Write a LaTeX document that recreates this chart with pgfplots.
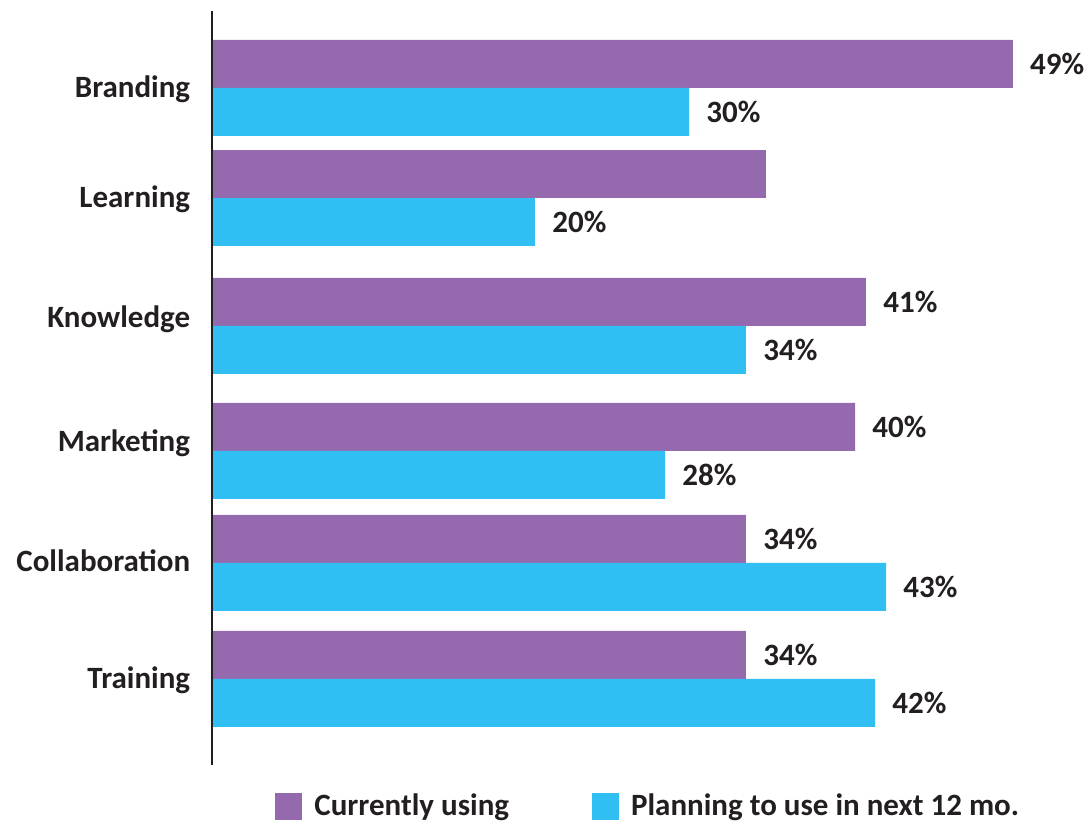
\documentclass[border=0pt]{standalone}
\usepackage{fontspec}
\setmainfont{Carlito}
\usepackage{pgfplots}
\pgfplotsset{compat=1.18}
\definecolor{cur}{HTML}{9469AD}
\definecolor{plan}{HTML}{31BEF2}
\definecolor{ink}{HTML}{231F20}
\newcommand{\lbl}{\fontsize{15.5}{18}\selectfont\bfseries}

\begin{document}
\begin{tikzpicture}
\begin{axis}[
    name=ax,
    scale only axis,
    x=7.95pt, y=0.5pt,% y axis counted in pixels of the original, downwards
    xmin=0, xmax=55.25, ymin=-765, ymax=-11,
    axis x line=none,
    axis y line*=left,
    y axis line style={ink, line width=1pt},
    ytick={-88,-198,-318,-442,-562,-679},
    yticklabels={Branding,Learning,Knowledge,Marketing,Collaboration,Training},
    major tick length=0pt,
    yticklabel style={font=\lbl, text=ink, anchor=base east, inner sep=0pt,
      xshift=-11pt, yshift=-5pt},
    xbar, bar shift=0pt, bar width=48,
    point meta=explicit symbolic,
    nodes near coords={\pgfplotspointmeta\%},
    every node near coord/.append style={font=\lbl, text=ink, anchor=west,
      inner sep=0pt, xshift=8.5pt},
    legend columns=2,
    legend style={at={(axis cs:3.93,-806.5)}, anchor=west, draw=none, fill=none,
      inner sep=0pt, font=\lbl, text=ink,
      /tikz/every even column/.append style={column sep=39.5pt}},
    axis on top,
    clip=false,
  ]

  % currently using
  \addplot[fill=cur, draw=none,
    legend image code/.code={\fill[cur] (0pt,-6.75pt) rectangle (13.5pt,6.75pt);
      \path (17.5pt,0pt);}]
  coordinates {
    (50.33,-64) [49]
    (41.10,-302) [41]
    (40.41,-427) [40]
    (33.55,-539) [34]
    (33.55,-655) [34]
  };
  \addlegendentry{Currently using}

  % planning to use
  \addplot[fill=plan, draw=none,
    legend image code/.code={\fill[plan] (0pt,-6.75pt) rectangle (13.5pt,6.75pt);
      \path (17.5pt,0pt);}]
  coordinates {
    (29.97,-112) [30]
    (20.28,-222) [20]
    (33.55,-350) [34]
    (28.46,-475) [28]
    (42.36,-587) [43]
    (41.67,-703) [42]
  };
  \addlegendentry{Planning to use in next 12 mo.}

  % Learning, currently using: no label in the original
  \addplot[fill=cur, draw=none, nodes near coords={}, forget plot]
  coordinates {(34.81,-174) [34]};
\end{axis}
\pgfresetboundingbox
\path[use as bounding box] ([shift={(-106.25pt,-28.5pt)}]ax.south west) rectangle ++(545.5pt,411pt);
\end{tikzpicture}
\end{document}
